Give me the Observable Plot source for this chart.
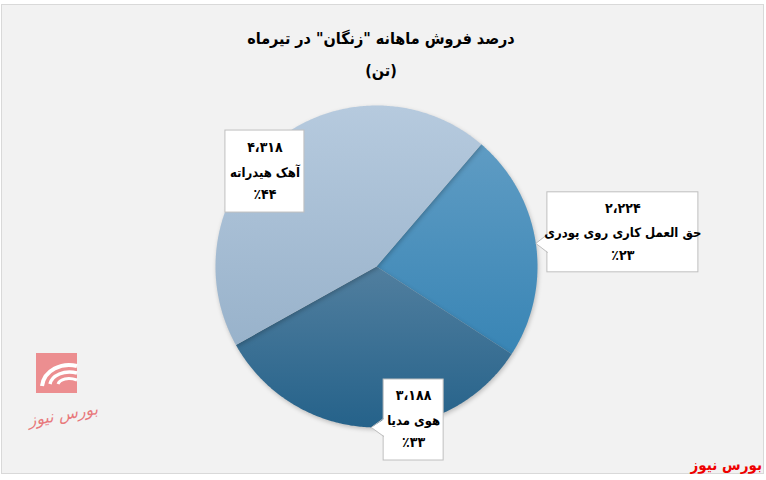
<!DOCTYPE html>
<html><head><meta charset="utf-8">
<script src="https://cdn.jsdelivr.net/npm/d3@7"></script>
<script src="https://cdn.jsdelivr.net/npm/@observablehq/plot@0.6"></script>
<style>
body{margin:0;background:#fff;}
#frame{position:relative;width:766px;height:480px;overflow:hidden;font-family:"DejaVu Sans Condensed","DejaVu Sans",sans-serif;}
#panel{position:absolute;left:1px;top:4px;width:761px;height:468px;background:#f2f2f2;border:1px solid #d9d9d9;}
#title{position:absolute;left:0;top:0;width:766px;height:90px;direction:rtl;color:#000;font-weight:bold;}
#title div{position:absolute;left:0;width:762px;text-align:center;font-size:16px;line-height:24px;}
#chart{position:absolute;left:0;top:90px;}
#logo{position:absolute;left:0;top:340px;}
#source{position:absolute;right:4px;top:457px;color:#ee0000;font-weight:bold;font-size:15px;direction:rtl;line-height:17px;}
</style>
</head><body>
<div id="frame">
  <div id="panel"></div>
  <div id="title"><div style="top:27px">درصد فروش ماهانه "زنگان" در تیرماه</div><div style="top:59px">(تن)</div></div>
  <div id="chart"></div>
  <svg id="logo" width="110" height="100">
    <rect x="36" y="13" width="41" height="40" fill="#ec8e90"/>
    <path d="M42 46 C44 30 62 22 77 26" stroke="#fff" stroke-width="4" fill="none"/>
    <path d="M50 44 C52 35 64 30 77 33" stroke="#fff" stroke-width="3.5" fill="none"/>
    <path d="M58 44 C60 39 68 37 77 40" stroke="#fff" stroke-width="3" fill="none"/>
    <text x="64" y="80" text-anchor="middle" font-family="DejaVu Sans" font-style="italic" font-size="16" fill="#e8797c" direction="rtl" transform="rotate(-10 64 80)">بورس نیوز</text>
  </svg>
  <div id="source">بورس نیوز</div>
</div>
<script>
// ---- data ----
const categories = ["حق العمل کاری روی پودری", "هوی مدیا", "آهک هیدراته"];
const values = [2224, 3188, 4318];
const valueLabels = ["۲،۲۲۴", "۳،۱۸۸", "۴،۳۱۸"];
const percentLabels = ["٪۲۳", "٪۳۳", "٪۴۴"];

// ---- layout / style ----
const W = 766, H = 390, cx = 376, cy = 176, R = 161;
const startDeg = 40.6;
const gradients = [["#66a0c6", "#2b7db0"], ["#7d9bb3", "#25628a"], ["#b6cade", "#8eaac4"]];
const labelAngleDeg = [82.1, 166.4, 310.4];
const labelDist = [1.545, 0.981, 0.91];
const boxSize = [[151, 80], [60, 81], [79, 82]];
const hasPointer = [true, true, false];
const lineDy = [-24, 1, 23];
const labelFont = "DejaVu Sans Condensed, DejaVu Sans, sans-serif";

const toRad = d => d * Math.PI / 180;
const u = p => p / R;
const start = toRad(startDeg);
const arcs = d3.pie().sort(null).startAngle(start).endAngle(start + 2 * Math.PI)(values);

const slices = arcs.map((a, i) => {
  const pts = [{x: 0, y: 0}];
  const n = Math.ceil((a.endAngle - a.startAngle) / 0.01);
  for (let j = 0; j <= n; j++) {
    const t = a.startAngle + (a.endAngle - a.startAngle) * j / n;
    pts.push({x: Math.sin(t), y: Math.cos(t)});
  }
  return pts;
});

const labels = categories.map((c, i) => {
  const t = toRad(labelAngleDeg[i]);
  const lx = labelDist[i] * Math.sin(t), ly = labelDist[i] * Math.cos(t);
  const [w, h] = boxSize[i];
  return {i, c, lx, ly, value: valueLabels[i], pct: percentLabels[i],
          x1: lx - u(w / 2), x2: lx + u(w / 2), y1: ly - u(h / 2), y2: ly + u(h / 2)};
});

const pointers = [];
const pointerEdges = [];
labels.forEach((l, i) => {
  if (!hasPointer[i]) return;
  const a = arcs[i];
  const m = (a.startAngle + a.endAngle) / 2;
  const tx = Math.sin(m), ty = Math.cos(m);
  const bx = l.x1;
  const by = Math.min(Math.max(ty, l.y1 + u(10)), l.y2 - u(10));
  const top = by + u(9), bot = by - u(9);
  pointers.push([{x: bx + u(1.5), y: top}, {x: tx, y: ty}, {x: bx + u(1.5), y: bot}].map(p => ({...p, k: i})));
  pointerEdges.push([{x: bx, y: top}, {x: tx, y: ty}, {x: bx, y: bot}].map(p => ({...p, k: i})));
});

const textStyle = {x: "lx", y: "ly", fontWeight: "bold", fill: "#000", fontFamily: labelFont, textAnchor: "middle", lineAnchor: "middle"};

const chart = Plot.plot({
  width: W, height: H, margin: 0,
  x: {domain: [-cx / R, (W - cx) / R], range: [0, W], axis: null},
  y: {domain: [-(H - cy) / R, cy / R], range: [H, 0], axis: null},
  style: {background: "transparent", overflow: "visible"},
  marks: [
    ...slices.map((pts, i) => Plot.line(pts, {x: "x", y: "y", fill: `url(#g${i})`, stroke: "none", curve: "linear-closed"})),
    Plot.rect(labels, {x1: "x1", x2: "x2", y1: "y1", y2: "y2", fill: "white", stroke: "#bfbfbf", strokeWidth: 1}),
    Plot.line(pointers.flat(), {x: "x", y: "y", z: "k", fill: "white", stroke: "none", curve: "linear-closed"}),
    Plot.line(pointerEdges.flat(), {x: "x", y: "y", z: "k", stroke: "#bfbfbf", strokeWidth: 1}),
    Plot.text(labels, {...textStyle, fontSize: 14, text: "value", dy: lineDy[0]}),
    Plot.text(labels, {...textStyle, fontSize: 13, text: "c", dy: lineDy[1]}),
    Plot.text(labels, {...textStyle, fontSize: 14, text: "pct", dy: lineDy[2]})
  ]
});

// gradients + shadow
const ns = "http://www.w3.org/2000/svg";
const defs = document.createElementNS(ns, "defs");
gradients.forEach(([c0, c1], i) => {
  const g = document.createElementNS(ns, "linearGradient");
  g.setAttribute("id", `g${i}`);
  g.setAttribute("gradientUnits", "userSpaceOnUse");
  g.setAttribute("x1", 0); g.setAttribute("x2", 0);
  g.setAttribute("y1", cy - R); g.setAttribute("y2", cy + R);
  [[0, c0], [1, c1]].forEach(([o, c]) => {
    const s = document.createElementNS(ns, "stop");
    s.setAttribute("offset", o); s.setAttribute("stop-color", c);
    g.appendChild(s);
  });
  defs.appendChild(g);
});
chart.insertBefore(defs, chart.firstChild);
d3.select(chart).selectAll('g[aria-label="line"]').filter((d, i) => i < 3)
  .style("filter", "drop-shadow(1px 2px 2px rgba(0,0,0,0.22))");
d3.select(chart).selectAll("text").attr("direction", "rtl").style("unicode-bidi", "plaintext");
document.getElementById("chart").appendChild(chart);
</script>
</body></html>
